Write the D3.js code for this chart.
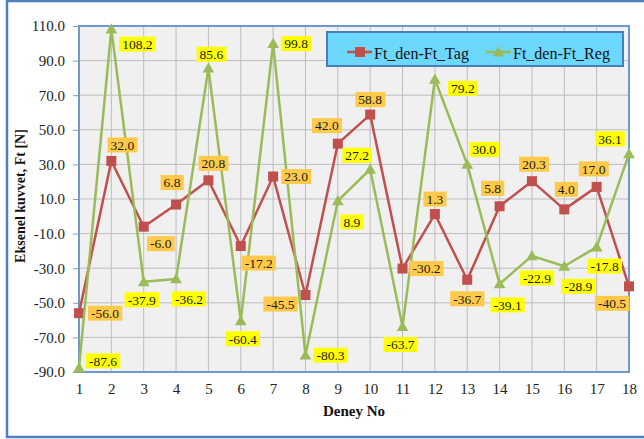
<!DOCTYPE html>
<html>
<head>
<meta charset="utf-8">
<script src="https://cdn.jsdelivr.net/npm/d3@7/dist/d3.min.js"></script>
<style>
  html, body { margin: 0; padding: 0; background: #ffffff; }
  svg { display: block; }
</style>
</head>
<body>
<svg id="chart" width="644" height="439"></svg>
<script>
// ---- data ----
const categories = [1, 2, 3, 4, 5, 6, 7, 8, 9, 10, 11, 12, 13, 14, 15, 16, 17, 18];
const tagValues = [-56.0, 32.0, -6.0, 6.8, 20.8, -17.2, 23.0, -45.5, 42.0, 58.8, -30.2, 1.3, -36.7, 5.8, 20.3, 4.0, 17.0, -40.5];
const regValues = [-87.6, 108.2, -37.9, -36.2, 85.6, -60.4, 99.8, -80.3, 8.9, 27.2, -63.7, 79.2, 30.0, -39.1, -22.9, -28.9, -17.8, 36.1];
const seriesNames = ["Ft_den-Ft_Tag", "Ft_den-Ft_Reg"];
const yTicks = [-90, -70, -50, -30, -10, 10, 30, 50, 70, 90, 110];
const xTitle = "Deney No";
const yTitle = "Eksenel kuvvet, Ft [N]";

// ---- label placement (pixel offsets from the point) ----
const tagLabelOffset = [[26,0],[11,-16],[17,17],[-4,-22],[5,-17],[18,17],[23,0],[-25,9],[-11,-18],[0,-15],[24,0],[0,-15],[0,19],[-7,-18],[2,-17],[2,-20],[-3,-18],[-17,17]];
const regLabelOffset = [[24,-7],[26,15],[-2,18],[13,20],[3,-14],[2,18],[23,0],[25,0],[14,21],[-13,-14],[-2,18],[28,9],[17,-15],[8,21],[5,22],[14,20],[8,19],[-19,-15]];

// ---- layout ----
const svg = d3.select("#chart");
const L = 79, R = 629, T = 26, B = 372;
const font = "'Liberation Serif', 'Times New Roman', serif";
const colTag = "#c0504d", colReg = "#9bbb59";
const fmt = v => d3.format(".1f")(v).replace("\u2212", "-");

// outer frame
svg.append("rect").attr("x", 7).attr("y", 1).attr("width", 660).attr("height", 436)
  .attr("fill", "#ffffff").attr("stroke", "#4f81bd").attr("stroke-width", 2.5);

const x = d3.scaleLinear().domain([1, 18]).range([L, R]);
const y = d3.scaleLinear().domain([-90, 110]).range([B, T]);

// plot background
svg.append("rect").attr("x", L).attr("y", T).attr("width", R - L).attr("height", B - T)
  .attr("fill", "#f0f0f0");

// grid
const grid = svg.append("g");
grid.selectAll("line.h").data(yTicks).join("line")
  .attr("x1", L).attr("x2", R).attr("y1", d => y(d)).attr("y2", d => y(d))
  .attr("stroke", "#bdbdbd").attr("stroke-width", 1);
grid.selectAll("line.v").data(categories).join("line")
  .attr("y1", T).attr("y2", B).attr("x1", d => x(d)).attr("x2", d => x(d))
  .attr("stroke", "#bdbdbd").attr("stroke-width", 1);

// axes
const yAxis = svg.append("g").attr("transform", `translate(${L},0)`)
  .call(d3.axisLeft(y).tickValues(yTicks).tickFormat(fmt).tickSize(6).tickPadding(8))
  .attr("font-family", font).attr("font-size", 15);
yAxis.select(".domain").remove();
yAxis.selectAll(".tick line").attr("stroke", "#999");
yAxis.selectAll("text").attr("fill", "#222");

const xAxis = svg.append("g").attr("transform", `translate(0,${B})`)
  .call(d3.axisBottom(x).tickValues(categories).tickFormat(d3.format("d")).tickSize(0).tickPadding(11))
  .attr("font-family", font).attr("font-size", 15);
xAxis.select(".domain").remove();
xAxis.selectAll("text").attr("fill", "#222");

// plot border
svg.append("rect").attr("x", L).attr("y", T).attr("width", R - L).attr("height", B - T)
  .attr("fill", "none").attr("stroke", "#6f98cc").attr("stroke-width", 2);

// titles
svg.append("text").attr("x", (L + R) / 2).attr("y", 416).attr("text-anchor", "middle")
  .attr("font-family", font).attr("font-size", 15).attr("font-weight", "bold").attr("fill", "#111")
  .text(xTitle);
svg.append("text").attr("transform", `translate(25,196) rotate(-90)`).attr("text-anchor", "middle")
  .attr("font-family", font).attr("font-size", 14).attr("font-weight", "bold").attr("fill", "#111")
  .text(yTitle);

// series
const line = d3.line().x((d, i) => x(categories[i])).y(d => y(d));
svg.append("path").datum(tagValues).attr("d", line).attr("fill", "none")
  .attr("stroke", colTag).attr("stroke-width", 2.5).attr("stroke-linejoin", "round");
svg.selectAll("rect.mTag").data(tagValues).join("rect").attr("class", "mTag")
  .attr("x", (d, i) => x(categories[i]) - 5).attr("y", d => y(d) - 5)
  .attr("width", 10).attr("height", 10).attr("fill", colTag);

svg.append("path").datum(regValues).attr("d", line).attr("fill", "none")
  .attr("stroke", colReg).attr("stroke-width", 2.5).attr("stroke-linejoin", "round");
const tri = d3.symbol().type(d3.symbolTriangle).size(60);
svg.selectAll("path.mReg").data(regValues).join("path").attr("class", "mReg")
  .attr("d", tri).attr("transform", (d, i) => `translate(${x(categories[i])},${y(d) + 1})`)
  .attr("fill", colReg);

// data labels
function drawLabels(values, offsets, bg) {
  const g = svg.append("g");
  values.forEach((v, i) => {
    const cx = x(categories[i]) + offsets[i][0];
    const cy = y(v) + offsets[i][1];
    const t = g.append("text").attr("x", cx).attr("y", cy).attr("dy", "0.35em")
      .attr("text-anchor", "middle").attr("font-family", font).attr("font-size", 13.5)
      .attr("fill", "#1a1a1a").text(fmt(v));
    const bb = t.node().getBBox();
    g.insert("rect", () => t.node()).attr("x", bb.x - 3).attr("y", cy - 7.5)
      .attr("width", bb.width + 6).attr("height", 15).attr("fill", bg);
  });
}
drawLabels(tagValues, tagLabelOffset, "#ffc94a");
drawLabels(regValues, regLabelOffset, "#ffff00");

// legend
const lg = svg.append("g");
lg.append("rect").attr("x", 327).attr("y", 32).attr("width", 296).attr("height", 34)
  .attr("fill", "#6cd8fe").attr("stroke", "#4a7ebb").attr("stroke-width", 2);
const legendItems = [
  { name: seriesNames[0], color: colTag, x0: 347, type: "sq" },
  { name: seriesNames[1], color: colReg, x0: 486, type: "tri" }
];
legendItems.forEach(it => {
  lg.append("line").attr("x1", it.x0).attr("x2", it.x0 + 25).attr("y1", 52).attr("y2", 52)
    .attr("stroke", it.color).attr("stroke-width", 2.5);
  if (it.type === "sq") {
    lg.append("rect").attr("x", it.x0 + 8).attr("y", 47).attr("width", 10).attr("height", 10).attr("fill", it.color);
  } else {
    lg.append("path").attr("d", tri).attr("transform", `translate(${it.x0 + 12.5},53)`).attr("fill", it.color);
  }
  lg.append("text").attr("x", it.x0 + 27).attr("y", 53).attr("dy", "0.35em")
    .attr("font-family", font).attr("font-size", 16).attr("fill", "#111").text(it.name);
});
</script>
</body>
</html>
